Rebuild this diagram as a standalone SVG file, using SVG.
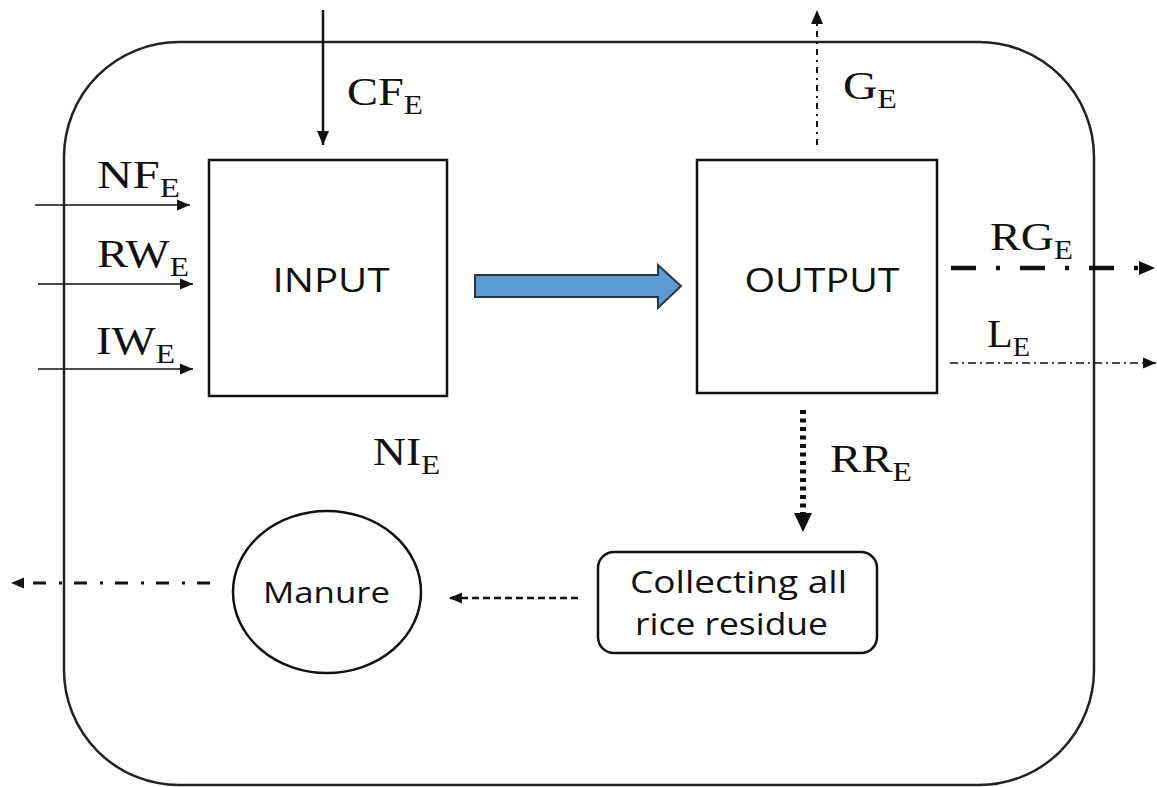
<svg xmlns="http://www.w3.org/2000/svg" width="1157" height="787" viewBox="0 0 1157 787">
<defs>
<style>
.frame{fill:none;stroke:#222;stroke-width:2.5}
.box{fill:#fff;stroke:#111;stroke-width:2.5}
.lbl{font-family:"Liberation Serif","Times New Roman",serif;font-size:40px;fill:#111}
.sub{font-size:27px}
.sans{font-family:"Open Sans","Liberation Sans",Arial,sans-serif;fill:#111}
.ln{fill:none;stroke:#111}
</style>
<marker id="ah" markerUnits="userSpaceOnUse" markerWidth="16" markerHeight="16" refX="14" refY="8" orient="auto">
<path d="M0,2 L14,8 L0,14 Z" fill="#111"/>
</marker>
<marker id="ahs" markerUnits="userSpaceOnUse" markerWidth="14" markerHeight="12" refX="13" refY="6" orient="auto">
<path d="M0,0.5 L13,6 L0,11.5 Z" fill="#111"/>
</marker>
</defs>

<rect class="frame" x="64" y="42" width="1030" height="743" rx="115" ry="115"/>

<g id="connectors">
<path class="ln" d="M323,10 V145" stroke-width="2.5" marker-end="url(#ah)"/>
<path class="ln" d="M817,145 V10" stroke-width="2" stroke-dasharray="6 5 2 5" marker-end="url(#ah)"/>
<path class="ln" d="M35,205 H190" stroke-width="1.5" marker-end="url(#ahs)"/>
<path class="ln" d="M38,284 H193" stroke-width="1.5" marker-end="url(#ahs)"/>
<path class="ln" d="M38,369 H193" stroke-width="1.5" marker-end="url(#ahs)"/>
<polygon points="475,275 658,275 658,265 681,286 658,308 658,297 475,297" fill="#5B9BD5" stroke="#2a3440" stroke-width="2"/>
<path class="ln" d="M951,268 H1140" stroke-width="4.5" stroke-dasharray="25 20 4 20"/>
<path d="M1139,261 L1155,268 L1139,275 Z" fill="#111"/>
<path class="ln" d="M950,363 H1156" stroke-width="1.5" stroke-dasharray="8 4 2 4" marker-end="url(#ahs)"/>
<path class="ln" d="M803,410 V514" stroke-width="6" stroke-dasharray="4 4.5"/>
<path d="M794,513 L812,513 L803,532 Z" fill="#111"/>
<path class="ln" d="M578,598 H449" stroke-width="2.5" stroke-dasharray="7 4" marker-end="url(#ahs)"/>
<path class="ln" d="M210,583 H11" stroke-width="3" stroke-dasharray="13 12 3 13" marker-end="url(#ahs)"/>
</g>

<g id="input">
<rect class="box" x="209" y="160" width="238" height="236"/>
<text class="sans" x="331" y="292" font-size="32" text-anchor="middle" textLength="117" lengthAdjust="spacingAndGlyphs">INPUT</text>
</g>

<g id="output">
<rect class="box" x="697" y="160" width="240" height="233"/>
<text class="sans" x="822" y="292" font-size="32" text-anchor="middle" textLength="155" lengthAdjust="spacingAndGlyphs">OUTPUT</text>
</g>

<g id="collecting">
<rect class="box" x="598" y="552" width="279" height="101" rx="16" ry="16"/>
<text class="sans" x="630" y="593" font-size="31" textLength="217" lengthAdjust="spacingAndGlyphs">Collecting all</text>
<text class="sans" x="635" y="635" font-size="31" textLength="193" lengthAdjust="spacingAndGlyphs">rice residue</text>
</g>

<g id="manure">
<ellipse class="box" cx="327" cy="592" rx="94" ry="81"/>
<text class="sans" x="263" y="603" font-size="29" textLength="127" lengthAdjust="spacingAndGlyphs">Manure</text>
</g>

<g id="labels">
<text class="lbl" x="347" y="105" textLength="76" lengthAdjust="spacingAndGlyphs">CF<tspan class="sub" dy="9">E</tspan></text>
<text class="lbl" x="843" y="99" textLength="54" lengthAdjust="spacingAndGlyphs">G<tspan class="sub" dy="9">E</tspan></text>
<text class="lbl" x="97" y="188" textLength="83" lengthAdjust="spacingAndGlyphs">NF<tspan class="sub" dy="9">E</tspan></text>
<text class="lbl" x="97" y="267" textLength="92" lengthAdjust="spacingAndGlyphs">RW<tspan class="sub" dy="9">E</tspan></text>
<text class="lbl" x="96" y="354" textLength="79" lengthAdjust="spacingAndGlyphs">IW<tspan class="sub" dy="9">E</tspan></text>
<text class="lbl" x="990" y="250" textLength="83" lengthAdjust="spacingAndGlyphs">RG<tspan class="sub" dy="9">E</tspan></text>
<text class="lbl" x="987" y="347" textLength="43" lengthAdjust="spacingAndGlyphs">L<tspan class="sub" dy="9">E</tspan></text>
<text class="lbl" x="830" y="472" textLength="82" lengthAdjust="spacingAndGlyphs">RR<tspan class="sub" dy="9">E</tspan></text>
<text class="lbl" x="373" y="465" textLength="67" lengthAdjust="spacingAndGlyphs">NI<tspan class="sub" dy="9">E</tspan></text>
</g>
</svg>
